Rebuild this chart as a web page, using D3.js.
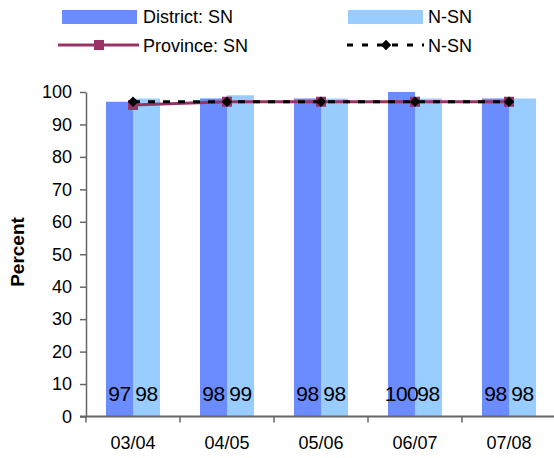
<!DOCTYPE html>
<html><head><meta charset="utf-8">
<script src="https://cdn.jsdelivr.net/npm/d3@7"></script>
<style>body{margin:0;background:#fff}svg{display:block;font-family:"Liberation Sans",Arial,sans-serif}</style>
</head><body><svg id="c" width="554" height="458"></svg>
<script>
const categories = ["03/04","04/05","05/06","06/07","07/08"];
const districtSN = [97,98,98,100,98];
const districtNSN = [98,99,98,98,98];
const provinceSN = [96,97,97,97,97];
const provinceNSN = [97,97,97,97,97];
const yTicks = [0,10,20,30,40,50,60,70,80,90,100];

const svg = d3.select("#c");
const x0 = d3.scaleBand().domain(categories).range([86,556]).paddingInner(0).paddingOuter(0);
const y = d3.scaleLinear().domain([0,100]).range([416.5,92]);
const barW = 27, offset = 20;
const axisCol = "#666";

// bars
const g = svg.append("g");
categories.forEach((c,i)=>{
  const bx = x0(c)+offset;
  g.append("rect").attr("x",bx).attr("y",y(districtSN[i])).attr("width",barW).attr("height",y(0)-y(districtSN[i])).attr("fill","#6a8cff");
  g.append("rect").attr("x",bx+barW).attr("y",y(districtNSN[i])).attr("width",barW).attr("height",y(0)-y(districtNSN[i])).attr("fill","#99ccff");
  g.append("text").attr("x",bx+barW/2).attr("y",401).attr("text-anchor","middle").attr("font-size",21).attr("letter-spacing",-0.5).text(districtSN[i]);
  g.append("text").attr("x",bx+barW*1.5).attr("y",401).attr("text-anchor","middle").attr("font-size",21).attr("letter-spacing",-0.5).text(districtNSN[i]);
});

// axes
const yAxis = d3.axisLeft(y).tickValues(yTicks).tickSize(6).tickSizeOuter(0);
const ya = svg.append("g").attr("transform","translate(86,0)").call(yAxis);
ya.select(".domain").attr("stroke",axisCol).attr("stroke-width",1.5);
ya.selectAll(".tick line").attr("stroke",axisCol).attr("stroke-width",1.5);
ya.selectAll(".tick text").attr("font-size",18).attr("font-family","Liberation Sans, Arial, sans-serif").attr("fill","#000").attr("x",-14);

const xa = svg.append("g").attr("transform","translate(0,"+y(0)+")");
xa.append("line").attr("x1",80).attr("x2",556).attr("stroke",axisCol).attr("stroke-width",2);
const edges = categories.map(c=>x0(c));
xa.selectAll(".xt").data(edges).enter().append("line").attr("x1",d=>d).attr("x2",d=>d).attr("y1",0).attr("y2",6).attr("stroke",axisCol).attr("stroke-width",1.5);
xa.selectAll(".xl").data(categories).enter().append("text").attr("x",d=>x0(d)+x0.bandwidth()/2).attr("y",32).attr("text-anchor","middle").attr("font-size",18).text(d=>d);

// lines
const cx = c=>x0(c)+x0.bandwidth()/2;
const lineP = d3.line().x((d,i)=>cx(categories[i])).y(d=>y(d));
svg.append("path").attr("d",lineP(provinceSN)).attr("fill","none").attr("stroke","#993366").attr("stroke-width",3);
provinceSN.forEach((v,i)=>svg.append("rect").attr("x",cx(categories[i])-5).attr("y",y(v)-5).attr("width",10).attr("height",10).attr("fill","#993366"));
svg.append("path").attr("d",lineP(provinceNSN)).attr("fill","none").attr("stroke","#000").attr("stroke-width",3).attr("stroke-dasharray","7,8");
const diamond = d3.symbol().type(d3.symbolDiamond2).size(70);
provinceNSN.forEach((v,i)=>svg.append("path").attr("d",diamond()).attr("transform",`translate(${cx(categories[i])},${y(v)})`).attr("fill","#000"));

// y title
svg.append("text").attr("transform","translate(24,252) rotate(-90)").attr("text-anchor","middle").attr("font-size",19).attr("font-weight","bold").text("Percent");

// legend
const lg = svg.append("g");
lg.append("rect").attr("x",62).attr("y",10).attr("width",75).attr("height",14).attr("fill","#6a8cff");
lg.append("text").attr("x",143).attr("y",23).attr("font-size",18).text("District: SN");
lg.append("rect").attr("x",348).attr("y",10).attr("width",75).attr("height",14).attr("fill","#99ccff");
lg.append("text").attr("x",428).attr("y",23).attr("font-size",18).text("N-SN");
lg.append("line").attr("x1",58).attr("x2",139).attr("y1",45).attr("y2",45).attr("stroke","#993366").attr("stroke-width",3);
lg.append("rect").attr("x",94).attr("y",40).attr("width",10).attr("height",10).attr("fill","#993366");
lg.append("text").attr("x",143).attr("y",52).attr("font-size",18).text("Province: SN");
lg.append("line").attr("x1",347).attr("x2",424).attr("y1",45).attr("y2",45).attr("stroke","#000").attr("stroke-width",3).attr("stroke-dasharray","6,9");
lg.append("path").attr("d",diamond()).attr("transform","translate(386,45)").attr("fill","#000");
lg.append("text").attr("x",428).attr("y",52).attr("font-size",18).text("N-SN");
</script></body></html>
